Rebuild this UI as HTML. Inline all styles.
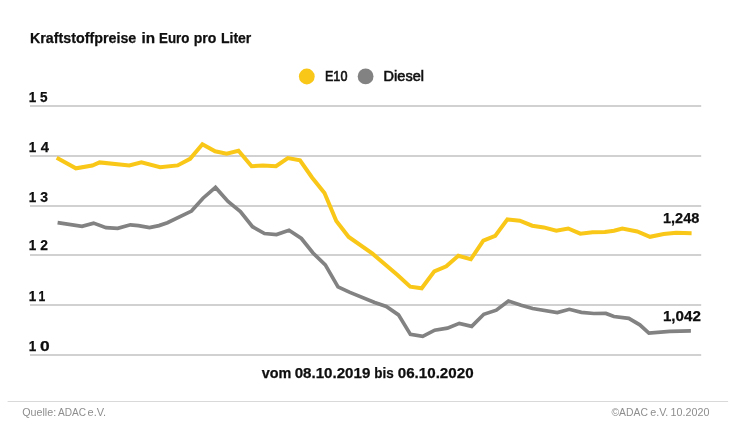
<!DOCTYPE html>
<html lang="de"><head><meta charset="utf-8"><title>Kraftstoffpreise in Euro pro Liter</title>
<style>
html,body{margin:0;padding:0;background:#fff;}
svg{display:block;font-family:"Liberation Sans",sans-serif;}
.b{font-weight:700;fill:#0f0f0f;stroke:#0f0f0f;stroke-width:0.25;}
.m{fill:#111;stroke:#111;stroke-width:0.6;}
.f{fill:#8e8e8e;}
</style></head><body>
<svg width="736" height="440" viewBox="0 0 736 440">
<rect width="736" height="440" fill="#fff"/>
<circle cx="306.8" cy="76.5" r="7.9" fill="#f9c717"/>
<circle cx="365.6" cy="76.45" r="7.9" fill="#828282"/>
<rect x="30" y="105" width="671.2" height="2" fill="#d1d1d1"/>
<rect x="30" y="155" width="671.2" height="2" fill="#d1d1d1"/>
<rect x="30" y="205" width="671.2" height="2" fill="#d1d1d1"/>
<rect x="30" y="254" width="671.2" height="2" fill="#d1d1d1"/>
<rect x="30" y="304" width="671.2" height="2" fill="#d1d1d1"/>
<rect x="30" y="354" width="671.2" height="2" fill="#d1d1d1"/>

<polyline points="57.6,222.7 82.0,226.4 93.6,223.1 106.0,227.7 117.7,228.4 130.4,224.8 138.4,225.6 149.5,227.6 159.0,225.6 167.4,222.7 191.5,211.1 203.0,198.2 215.5,187.4 228.0,201.5 240.4,211.5 252.5,226.7 264.5,233.5 276.5,234.5 289.0,230.3 301.4,238.5 313.0,253.0 325.3,264.8 338.0,286.8 349.9,292.4 374.7,302.4 386.3,306.4 398.5,314.9 410.4,334.4 422.7,336.4 434.7,330.2 447.4,328.1 459.3,323.4 471.7,326.4 483.8,314.3 496.3,310.2 508.4,301.0 521.2,305.2 532.6,308.5 557.3,312.6 569.3,309.3 581.4,312.3 593.8,313.5 605.9,313.4 613.9,316.5 628.8,318.4 639.8,324.8 648.9,333.1 669.7,331.3 690.9,330.9" fill="none" stroke="#828282" stroke-width="3.7" stroke-linejoin="miter"/>
<polyline points="56.7,157.8 75.9,168.3 92.3,165.5 99.6,162.4 129.3,165.4 141.4,162.2 160.1,167.3 177.6,165.4 190.1,158.8 202.4,144.2 215.1,151.3 226.6,153.7 238.5,150.8 251.6,166.2 262.9,165.4 276.0,166.2 287.9,158.1 300.0,160.4 312.0,177.5 324.5,193.0 336.3,221.0 348.7,237.0 372.5,253.7 397.5,275.0 410.2,286.7 421.7,288.3 434.3,271.3 446.3,266.3 458.3,255.8 470.8,259.3 483.3,240.7 495.2,235.9 507.4,219.4 519.8,220.7 532.2,225.7 543.8,227.4 556.3,230.7 568.2,228.5 580.3,233.7 592.6,232.3 604.9,232.0 614.0,230.7 622.3,228.5 637.2,231.5 650.0,236.8 663.7,234.0 676.2,232.8 691.6,233.2" fill="none" stroke="#f9c717" stroke-width="4" stroke-linejoin="miter"/>
<rect x="7.6" y="401" width="720.5" height="1" fill="#d9d9d9"/>
<text class="b" font-size="14.4" y="42.5"><tspan x="29.96" textLength="106.33" lengthAdjust="spacingAndGlyphs">Kraftstoffpreise</tspan> <tspan x="141.41" textLength="13.58" lengthAdjust="spacingAndGlyphs">in</tspan> <tspan x="159.03" textLength="30.37" lengthAdjust="spacingAndGlyphs">Euro</tspan> <tspan x="193.65" textLength="22.59" lengthAdjust="spacingAndGlyphs">pro</tspan> <tspan x="220.91" textLength="30.43" lengthAdjust="spacingAndGlyphs">Liter</tspan></text>
<text class="m" font-size="14.2" y="81.45"><tspan x="324.98" textLength="22.42" lengthAdjust="spacingAndGlyphs">E10</tspan></text>
<text class="m" font-size="14.2" y="81.45"><tspan x="383.64" textLength="40.34" lengthAdjust="spacingAndGlyphs">Diesel</tspan></text>
<text class="b" font-size="14.6" y="222.7"><tspan x="663.03" textLength="36.31" lengthAdjust="spacingAndGlyphs">1,248</tspan></text>
<text class="b" font-size="14.6" y="321.35"><tspan x="662.92" textLength="37.91" lengthAdjust="spacingAndGlyphs">1,042</tspan></text>
<text class="b" font-size="14.5" y="378.2"><tspan x="261.83" textLength="29.58" lengthAdjust="spacingAndGlyphs">vom</tspan> <tspan x="294.67" textLength="75.66" lengthAdjust="spacingAndGlyphs">08.10.2019</tspan> <tspan x="374.32" textLength="19.44" lengthAdjust="spacingAndGlyphs">bis</tspan> <tspan x="397.71" textLength="75.87" lengthAdjust="spacingAndGlyphs">06.10.2020</tspan></text>
<text class="f" font-size="10.1" y="415.5"><tspan x="22.19" textLength="33.96" lengthAdjust="spacingAndGlyphs">Quelle:</tspan> <tspan x="57.91" textLength="28.09" lengthAdjust="spacingAndGlyphs">ADAC</tspan> <tspan x="87.62" textLength="18.57" lengthAdjust="spacingAndGlyphs">e.V.</tspan></text>
<text class="f" font-size="10.1" y="415.5"><tspan x="611.47" textLength="36.43" lengthAdjust="spacingAndGlyphs">©ADAC</tspan> <tspan x="650.18" textLength="18.17" lengthAdjust="spacingAndGlyphs">e.V.</tspan> <tspan x="670.58" textLength="38.78" lengthAdjust="spacingAndGlyphs">10.2020</tspan></text>
<text class="b" font-size="14.6" y="101.8"><tspan x="28.87" textLength="7.52" lengthAdjust="spacingAndGlyphs">1</tspan> <tspan x="40.10" textLength="7.52" lengthAdjust="spacingAndGlyphs">5</tspan></text>
<text class="b" font-size="14.6" y="151.8"><tspan x="28.87" textLength="7.52" lengthAdjust="spacingAndGlyphs">1</tspan> <tspan x="40.68" textLength="8.22" lengthAdjust="spacingAndGlyphs">4</tspan></text>
<text class="b" font-size="14.6" y="201.8"><tspan x="28.87" textLength="7.52" lengthAdjust="spacingAndGlyphs">1</tspan> <tspan x="40.20" textLength="7.76" lengthAdjust="spacingAndGlyphs">3</tspan></text>
<text class="b" font-size="14.6" y="250.4"><tspan x="28.87" textLength="7.52" lengthAdjust="spacingAndGlyphs">1</tspan> <tspan x="40.14" textLength="7.68" lengthAdjust="spacingAndGlyphs">2</tspan></text>
<text class="b" font-size="14.6" y="300.5"><tspan x="28.87" textLength="7.52" lengthAdjust="spacingAndGlyphs">1</tspan> <tspan x="38.52" textLength="6.77" lengthAdjust="spacingAndGlyphs">1</tspan></text>
<text class="b" font-size="14.6" y="350.5"><tspan x="28.87" textLength="7.52" lengthAdjust="spacingAndGlyphs">1</tspan> <tspan x="39.96" textLength="9.69" lengthAdjust="spacingAndGlyphs">0</tspan></text>
</svg>
</body></html>
